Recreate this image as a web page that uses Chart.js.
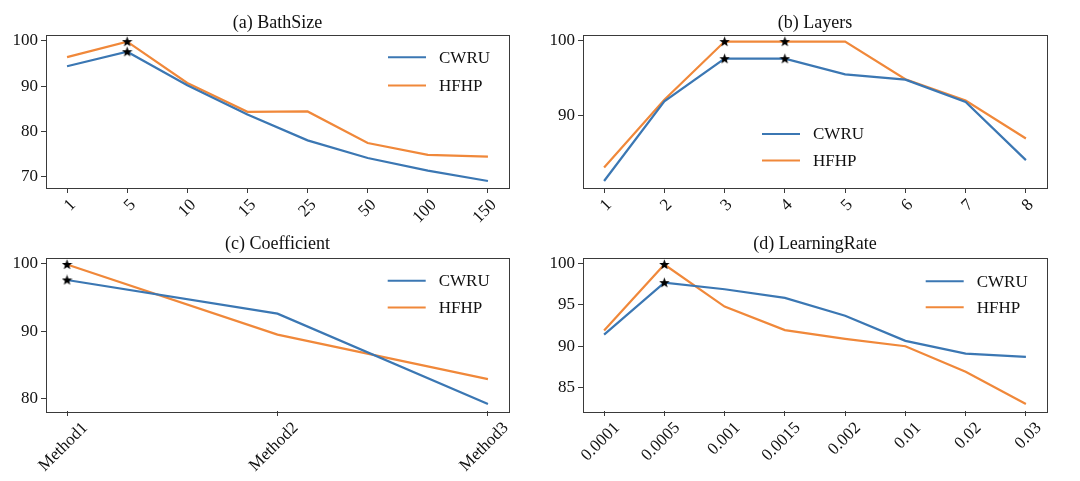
<!DOCTYPE html>
<html>
<head>
<meta charset="utf-8">
<script src="https://cdn.jsdelivr.net/npm/chart.js@4.4.0/dist/chart.umd.min.js"></script>
<style>
html, body { margin: 0; padding: 0; background: #fff; }
body { width: 1080px; height: 481px; position: relative; overflow: hidden; }
.panel { position: absolute; }
</style>
</head>
<body>
<div class="panel" style="left:0;top:0;width:540px;height:240px"><canvas id="chartA"></canvas></div>
<div class="panel" style="left:540px;top:0;width:540px;height:240px"><canvas id="chartB"></canvas></div>
<div class="panel" style="left:0;top:228px;width:540px;height:253px"><canvas id="chartC"></canvas></div>
<div class="panel" style="left:540px;top:228px;width:540px;height:253px"><canvas id="chartD"></canvas></div>
<script>
// data
const batchLabels = ['1', '5', '10', '15', '25', '50', '100', '150'];
const batchCWRU = [94.4, 97.6, 90.2, 83.7, 78.0, 74.1, 71.3, 69.0];
const batchHFHP = [96.4, 99.85, 90.7, 84.3, 84.4, 77.4, 74.8, 74.4];
const batchBest = [1];
const batchYTicks = [70, 80, 90, 100];

const layerLabels = ['1', '2', '3', '4', '5', '6', '7', '8'];
const layerCWRU = [81.2, 91.9, 97.6, 97.6, 95.5, 94.8, 91.8, 84.0];
const layerHFHP = [83.0, 92.1, 99.9, 99.9, 99.9, 94.85, 92.0, 86.9];
const layerBest = [2, 3];
const layerYTicks = [90, 100];

const coefLabels = ['Method1', 'Method2', 'Method3'];
const coefCWRU = [97.6, 92.6, 79.2];
const coefHFHP = [99.9, 89.5, 82.9];
const coefBest = [0];
const coefYTicks = [80, 90, 100];

const lrLabels = ['0.0001', '0.0005', '0.001', '0.0015', '0.002', '0.01', '0.02', '0.03'];
const lrCWRU = [91.4, 97.7, 96.9, 95.85, 93.7, 90.65, 89.1, 88.7];
const lrHFHP = [91.9, 99.9, 94.8, 91.95, 90.9, 90.0, 86.9, 83.0];
const lrBest = [1];
const lrYTicks = [85, 90, 95, 100];

const BLUE = '#3b77b3';
const ORANGE = '#f0883a';
const FONT = 'Liberation Serif';

// filled star like matplotlib's '*' marker
const star = document.createElement('canvas');
star.width = 11; star.height = 11;
(function () {
    const c = star.getContext('2d');
    c.beginPath();
    for (let i = 0; i < 10; i++) {
        const r = i % 2 ? 2.3 : 5.5;
        const a = -Math.PI / 2 + i * Math.PI / 5;
        c.lineTo(5.5 + r * Math.cos(a), 5.8 + r * Math.sin(a));
    }
    c.closePath();
    c.fillStyle = '#000';
    c.fill();
})();

const framePlugin = {
    id: 'frame',
    afterDatasetsDraw(chart) {
        const a = chart.chartArea, ctx = chart.ctx;
        ctx.save();
        ctx.strokeStyle = '#3a3a3a';
        ctx.lineWidth = 1;
        ctx.strokeRect(Math.round(a.left) + 0.5, Math.round(a.top) + 0.5,
            Math.round(a.right - a.left), Math.round(a.bottom - a.top));
        ctx.restore();
    }
};

const legendPlugin = {
    id: 'innerLegend',
    afterDraw(chart, args, opts) {
        const a = chart.chartArea, ctx = chart.ctx;
        ctx.save();
        chart.data.datasets.forEach((ds, i) => {
            const x = a.left + opts.x;
            const y = a.top + opts.y + i * opts.step;
            ctx.strokeStyle = ds.borderColor;
            ctx.lineWidth = 2;
            ctx.beginPath();
            ctx.moveTo(x, y);
            ctx.lineTo(x + 38, y);
            ctx.stroke();
            ctx.fillStyle = '#111';
            ctx.font = '17px "' + FONT + '"';
            ctx.textBaseline = 'middle';
            ctx.fillText(ds.label, x + 51, y + 1);
        });
        ctx.restore();
    }
};

function makePanel(id, title, labels, cwru, hfhp, best, yTicks, lay) {
    const all = cwru.concat(hfhp);
    const lo = Math.min(...all), hi = Math.max(...all);
    const m = (hi - lo) * 0.05;
    const xm = (labels.length - 1) * 0.05;
    const ds = (name, values, color) => ({
        label: name,
        data: values.map((v, i) => ({ x: i, y: v })),
        borderColor: color,
        backgroundColor: color,
        borderWidth: 2.2,
        tension: 0,
        pointStyle: c => best.includes(c.dataIndex) ? star : 'circle',
        pointRadius: c => best.includes(c.dataIndex) ? 5 : 0,
        pointHoverRadius: 0
    });
    new Chart(document.getElementById(id), {
        type: 'line',
        data: { datasets: [ds('CWRU', cwru, BLUE), ds('HFHP', hfhp, ORANGE)] },
        options: {
            responsive: true,
            maintainAspectRatio: false,
            animation: false,
            events: [],
            // empty right axis as wide as the left one so the title centres over the axes
            layout: { padding: { left: 0, right: 540 - lay.plotRight - lay.yWidth, top: 0, bottom: 0 } },
            plugins: {
                legend: { display: false },
                tooltip: { enabled: false },
                title: {
                    display: true,
                    text: title,
                    color: '#111',
                    font: { family: FONT, size: 18, weight: 'normal' },
                    padding: lay.titlePad
                },
                innerLegend: lay.legend
            },
            scales: {
                x: {
                    type: 'linear',
                    min: -xm,
                    max: labels.length - 1 + xm,
                    afterBuildTicks: s => { s.ticks = labels.map((_, i) => ({ value: i })); },
                    afterFit: s => { s.height = lay.xHeight; },
                    border: { display: false },
                    grid: { drawOnChartArea: false, drawTicks: true, tickLength: 5, color: '#3a3a3a' },
                    ticks: {
                        autoSkip: false,
                        minRotation: 45,
                        maxRotation: 45,
                        padding: 2,
                        labelOffset: lay.labelOffset,
                        color: '#111',
                        font: { family: FONT, size: 17 },
                        callback: v => labels[v]
                    }
                },
                y: {
                    min: lo - m,
                    max: hi + m,
                    afterBuildTicks: s => { s.ticks = yTicks.map(v => ({ value: v })); },
                    afterFit: s => { s.width = lay.yWidth; },
                    border: { display: false },
                    grid: { drawOnChartArea: false, drawTicks: true, tickLength: 5, color: '#3a3a3a' },
                    ticks: {
                        padding: 3,
                        color: '#111',
                        font: { family: FONT, size: 17 }
                    }
                },
                yPad: {
                    position: 'right',
                    afterFit: s => { s.width = lay.yWidth; },
                    border: { display: false },
                    grid: { display: false },
                    ticks: { display: false }
                }
            }
        },
        plugins: [framePlugin, legendPlugin]
    });
}

makePanel('chartA', '(a) BathSize', batchLabels, batchCWRU, batchHFHP, batchBest, batchYTicks, {
    yWidth: 46, plotRight: 509,
    titlePad: { top: 12.5, bottom: 0.5 },
    xHeight: 52, labelOffset: 6,
    legend: { x: 342, y: 22.7, step: 28.3 }
});
makePanel('chartB', '(b) Layers', layerLabels, layerCWRU, layerHFHP, layerBest, layerYTicks, {
    yWidth: 43, plotRight: 507,
    titlePad: { top: 12.5, bottom: 0.5 },
    xHeight: 52, labelOffset: 5,
    legend: { x: 179, y: 99.3, step: 26.7 }
});
makePanel('chartC', '(c) Coefficient', coefLabels, coefCWRU, coefHFHP, coefBest, coefYTicks, {
    yWidth: 46, plotRight: 509,
    titlePad: { top: 5.7, bottom: 2.2 },
    xHeight: 70, labelOffset: 18,
    legend: { x: 341.7, y: 23.2, step: 26.7 }
});
makePanel('chartD', '(d) LearningRate', lrLabels, lrCWRU, lrHFHP, lrBest, lrYTicks, {
    yWidth: 43, plotRight: 507,
    titlePad: { top: 5.7, bottom: 2.2 },
    xHeight: 70, labelOffset: 13,
    legend: { x: 342.7, y: 23.8, step: 26 }
});
</script>
</body>
</html>
